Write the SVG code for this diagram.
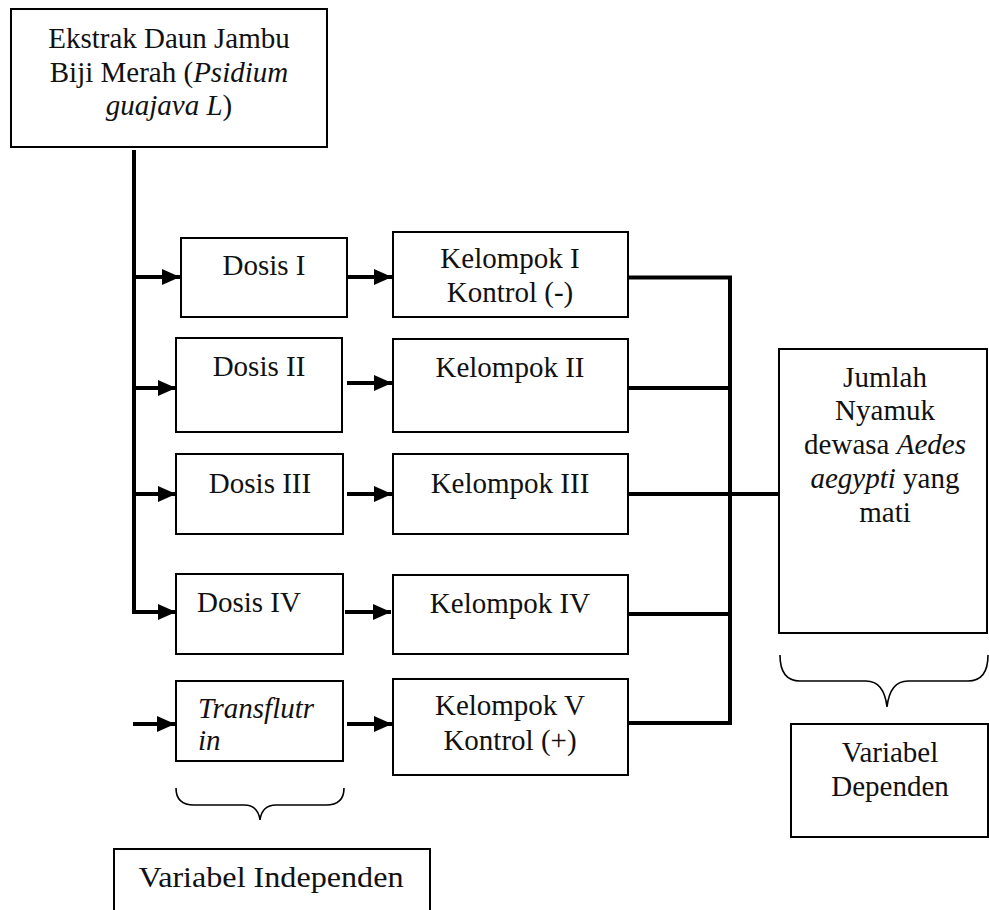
<svg xmlns="http://www.w3.org/2000/svg" width="989" height="910" viewBox="0 0 989 910">
<style>
.box{fill:#fff;stroke:#000;stroke-width:2}
.t{font-family:"Liberation Serif","Times New Roman",serif;font-size:29px;fill:#111;text-anchor:middle}
.i{font-style:italic}
.c{fill:none;stroke:#000;stroke-width:4}
.br{fill:none;stroke:#000;stroke-width:1.6}
</style>
<defs>
<marker id="ah" markerUnits="userSpaceOnUse" markerWidth="19" markerHeight="16" refX="18" refY="8" orient="auto">
<path d="M0,0 L18,8 L0,16 z" fill="#000"/>
</marker>
</defs>
<rect width="989" height="910" fill="#fff"/>
<g id="connectors">
<line class="c" x1="134" y1="150" x2="134" y2="614"/>
<line class="c" x1="132" y1="277" x2="180" y2="277" marker-end="url(#ah)"/>
<line class="c" x1="132" y1="388" x2="176" y2="388" marker-end="url(#ah)"/>
<line class="c" x1="132" y1="494" x2="176" y2="494" marker-end="url(#ah)"/>
<line class="c" x1="132" y1="612" x2="176" y2="612" marker-end="url(#ah)"/>
<line class="c" x1="133" y1="724" x2="175" y2="724" marker-end="url(#ah)"/>
<line class="c" x1="347" y1="277" x2="392" y2="277" marker-end="url(#ah)"/>
<line class="c" x1="347" y1="383" x2="392" y2="383" marker-end="url(#ah)"/>
<line class="c" x1="347" y1="494" x2="392" y2="494" marker-end="url(#ah)"/>
<line class="c" x1="345" y1="612" x2="391" y2="612" marker-end="url(#ah)"/>
<line class="c" x1="347" y1="724" x2="392" y2="724" marker-end="url(#ah)"/>
<line class="c" x1="628" y1="277.5" x2="732" y2="277.5"/>
<line class="c" x1="628" y1="388" x2="730" y2="388"/>
<line class="c" x1="628" y1="494" x2="779" y2="494"/>
<line class="c" x1="628" y1="614" x2="730" y2="614"/>
<line class="c" x1="628" y1="723" x2="732" y2="723"/>
<line class="c" x1="730" y1="276" x2="730" y2="725"/>
</g>
<g id="ekstrak">
<rect class="box" x="11" y="9" width="316" height="138"/>
<text class="t" x="169" y="48">Ekstrak Daun Jambu</text>
<text class="t" x="169" y="82">Biji Merah (<tspan class="i">Psidium</tspan></text>
<text class="t" x="169" y="115"><tspan class="i">guajava L</tspan>)</text>
</g>
<g id="dosis1">
<rect class="box" x="181" y="238" width="166" height="79"/>
<text class="t" x="264" y="275">Dosis I</text>
</g>
<g id="dosis2">
<rect class="box" x="176" y="338" width="166" height="94"/>
<text class="t" x="259" y="376">Dosis II</text>
</g>
<g id="dosis3">
<rect class="box" x="176" y="454" width="167" height="80"/>
<text class="t" x="260" y="493">Dosis III</text>
</g>
<g id="dosis4">
<rect class="box" x="176" y="574" width="167" height="80"/>
<text class="t" x="249" y="612">Dosis IV</text>
</g>
<g id="transflutrin">
<rect class="box" x="176" y="681" width="167" height="80"/>
<text class="t i" x="198" y="718" style="text-anchor:start">Transflutr</text>
<text class="t i" x="198" y="750" style="text-anchor:start">in</text>
</g>
<g id="kelompok1">
<rect class="box" x="393" y="232" width="235" height="85"/>
<text class="t" x="510" y="268">Kelompok I</text>
<text class="t" x="510" y="302">Kontrol (-)</text>
</g>
<g id="kelompok2">
<rect class="box" x="393" y="339" width="235" height="93"/>
<text class="t" x="510" y="377">Kelompok II</text>
</g>
<g id="kelompok3">
<rect class="box" x="393" y="454" width="235" height="80"/>
<text class="t" x="510" y="493">Kelompok III</text>
</g>
<g id="kelompok4">
<rect class="box" x="393" y="575" width="235" height="79"/>
<text class="t" x="510" y="613">Kelompok IV</text>
</g>
<g id="kelompok5">
<rect class="box" x="393" y="679" width="235" height="96"/>
<text class="t" x="510" y="715">Kelompok V</text>
<text class="t" x="510" y="750">Kontrol (+)</text>
</g>
<g id="jumlah">
<rect class="box" x="779" y="349" width="208" height="284"/>
<text class="t" x="885" y="387">Jumlah</text>
<text class="t" x="885" y="420">Nyamuk</text>
<text class="t" x="885" y="454">dewasa <tspan class="i">Aedes</tspan></text>
<text class="t" x="885" y="488"><tspan class="i">aegypti</tspan> yang</text>
<text class="t" x="885" y="522">mati</text>
</g>
<g id="brace-independen">
<path class="br" d="M176,788 Q176,805 194,805 L244,805 Q258,805 260,820 Q262,805 276,805 L326,805 Q344,805 344,788"/>
</g>
<g id="brace-dependen">
<path class="br" d="M780,655 Q780,681 800,681 L866,681 Q884,681 887,707 Q890,681 908,681 L968,681 Q988,681 988,655"/>
</g>
<g id="variabel-dependen">
<rect class="box" x="791" y="724" width="197" height="113"/>
<text class="t" x="890" y="762">Variabel</text>
<text class="t" x="890" y="796">Dependen</text>
</g>
<g id="variabel-independen">
<rect class="box" x="114" y="849" width="316" height="90"/>
<text class="t" x="271" y="887" textLength="265" lengthAdjust="spacingAndGlyphs">Variabel Independen</text>
</g>
</svg>
